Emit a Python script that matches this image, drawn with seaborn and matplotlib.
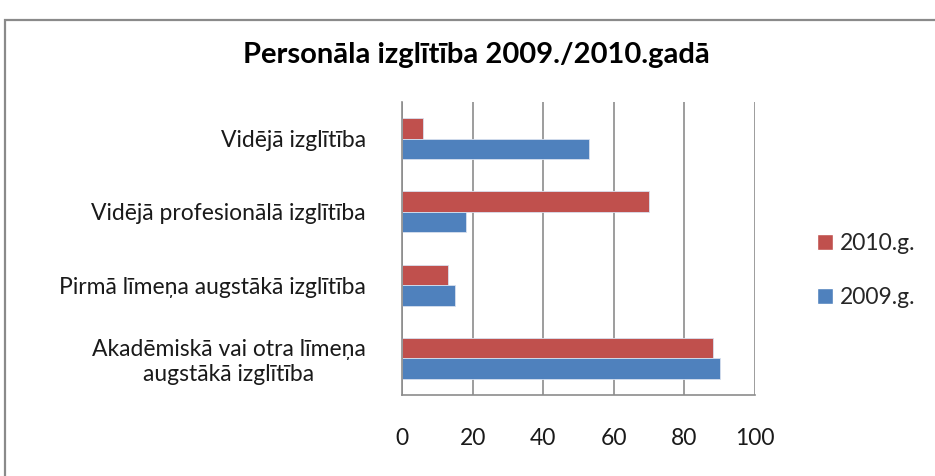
import pandas as pd
import matplotlib.pyplot as plt
import matplotlib.patches as mpatches
import seaborn as sns

# Chart data
categories = ['Vidējā izglītība',
              'Vidējā profesionālā izglītība',
              'Pirmā līmeņa augstākā izglītība',
              'Akadēmiskā vai otra līmeņa\naugstākā izglītība']
years = ['2010.g.', '2009.g.']
values_2010 = [6, 70, 13, 88]
values_2009 = [53, 18, 15, 90]
x_ticks = [0, 20, 40, 60, 80, 100]
title = 'Personāla izglītība 2009./2010.gadā'

colors = {'2010.g.': '#C0504D', '2009.g.': '#4F81BD'}

df = pd.DataFrame({
    'kategorija': categories * 2,
    'gads': ['2010.g.'] * 4 + ['2009.g.'] * 4,
    'vertiba': values_2010 + values_2009,
})

sns.set_style('white')
plt.rcParams['font.family'] = ['Lato', 'DejaVu Sans']

fig = plt.figure(figsize=(9.35, 4.76), dpi=100)
ax = fig.add_axes([0.43, 0.170, 0.3775, 0.616])

sns.barplot(data=df, y='kategorija', x='vertiba', hue='gads', hue_order=years,
            order=categories, palette=colors, saturation=1, orient='h', width=0.56,
            edgecolor='#d8e0ee', linewidth=0.6, legend=False, ax=ax)

ax.set_xlim(0, 100)
ax.set_xticks(x_ticks)
ax.set_xticklabels([str(t) for t in x_ticks], fontsize=16.5, color='#1a1a1a')
ax.set_yticklabels(categories, fontsize=16.5, color='#1a1a1a', multialignment='center')
ax.tick_params(axis='both', length=0)
ax.tick_params(axis='y', pad=26)
ax.tick_params(axis='x', pad=24)
ax.set_xlabel('')
ax.set_ylabel('')

for t in x_ticks:
    ax.axvline(t, color='#8c8c8c', linewidth=1.2, zorder=0)
for side in ['top', 'right']:
    ax.spines[side].set_visible(False)
for side in ['left', 'bottom']:
    ax.spines[side].set_color('#8c8c8c')
    ax.spines[side].set_linewidth(1.2)

fig.text(0.51, 0.884, title, ha='center', va='center', fontsize=21, fontweight='bold', color='#000000')

handles = [mpatches.Patch(facecolor=colors[y], edgecolor='white', label=y) for y in years]
fig.legend(handles=handles, loc='upper left', bbox_to_anchor=(0.862, 0.535), frameon=False,
           fontsize=16.5, handlelength=0.7, handleheight=0.7, handletextpad=0.3,
           labelspacing=1.45, borderpad=0)

# chart frame like the original screenshot
fig.patches.append(mpatches.Rectangle((0.0055, -0.05), 1.2, 0.958 + 0.05,
                                      transform=fig.transFigure, fill=False,
                                      edgecolor='#8a8a8a', linewidth=1.6))

fig.savefig('out.png', dpi=100)
